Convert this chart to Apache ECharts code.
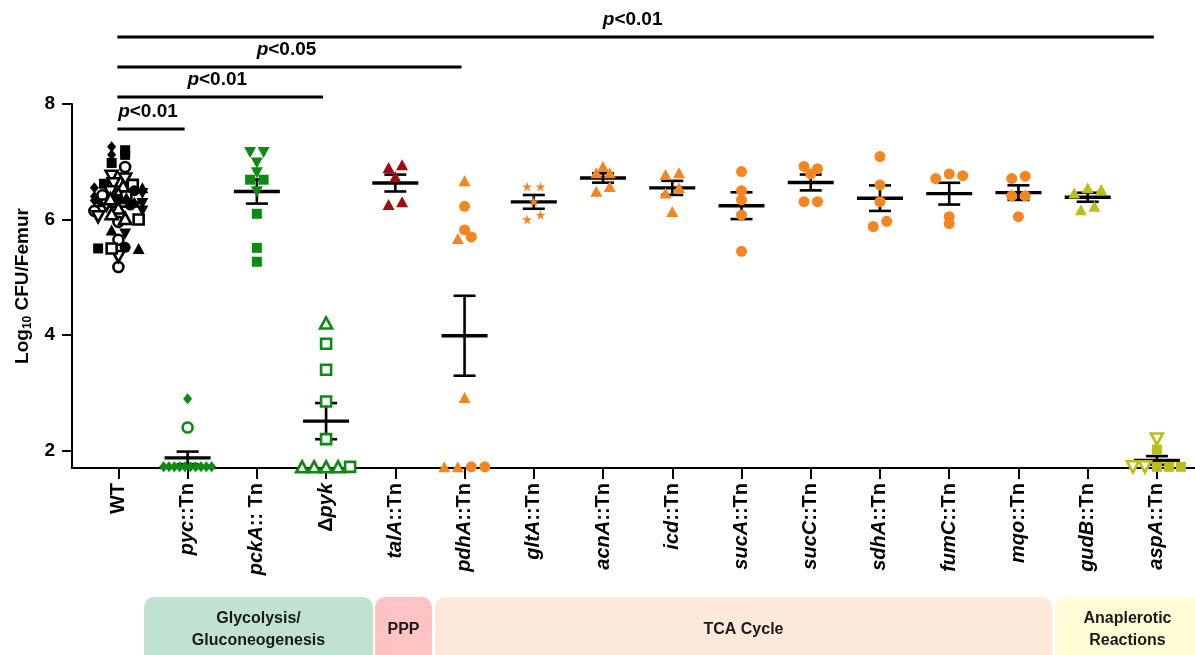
<!DOCTYPE html>
<html><head><meta charset="utf-8">
<script src="https://cdn.jsdelivr.net/npm/echarts@6/dist/echarts.min.js"></script>
<style>html,body{margin:0;padding:0;background:#fff}#c{width:1195px;height:655px}</style>
</head><body><div id="c"></div>
<script>
// ---------------- DATA ----------------
const categories = ['WT','pyc::Tn','pckA:: Tn','Δpyk','talA::Tn','pdhA::Tn','gltA::Tn','acnA::Tn','icd::Tn','sucA::Tn','sucC::Tn','sdhA::Tn','fumC::Tn','mqo::Tn','gudB::Tn','aspA::Tn'];
const yTicks = [2, 4, 6, 8];

// WT (several independent experiments, different symbols)
const wtDiamond     = [7.26, 7.12, 6.55, 6.40, 6.33];
const wtSquare      = [7.20, 7.12, 6.98, 6.62, 6.30, 5.50];
const wtOpenCircle  = [6.91, 6.42, 6.15, 5.96, 5.65, 5.18];
const wtOpenTriDown = [6.75, 6.70, 6.62, 6.48, 6.25, 6.05, 5.36];
const wtOpenTriUp   = [6.58, 6.45, 6.36, 6.20, 6.10, 6.02];
const wtOpenSquare  = [6.60, 6.40, 6.00, 5.50];
const wtCircle      = [6.50, 6.35, 6.25, 5.52];
const wtTriUp       = [6.55, 6.38, 6.30, 5.82, 5.50];
const wtTriDown     = [6.45, 6.28, 6.15, 5.75];

const pycDiamond    = [2.90, 1.72, 1.72, 1.72, 1.72, 1.72, 1.72, 1.72, 1.72, 1.72, 1.72];
const pycOpenCircle = [2.40];
const pckATriDown   = [7.16, 7.16, 6.98, 6.81, 6.48];
const pckASquare    = [6.69, 6.69, 6.10, 5.51, 5.27];
const pykOpenTri    = [4.21, 1.72, 1.72, 1.72, 1.72];
const pykOpenSquare = [3.85, 3.40, 2.85, 2.20, 1.72];
const talATri       = [6.90, 6.95, 6.74, 6.26, 6.31];
const pdhATri       = [6.67, 5.67, 2.92, 1.72, 1.72];
const pdhACircle    = [6.23, 5.82, 5.70, 1.72, 1.72];
const gltAStar      = [6.57, 6.57, 6.31, 6.00, 6.08];
const acnATri       = [6.92, 6.81, 6.81, 6.49, 6.57];
const icdTri        = [6.78, 6.81, 6.46, 6.55, 6.14];
const sucACircle    = [6.83, 6.50, 6.34, 6.08, 5.45];
const sucCCircle    = [6.92, 6.88, 6.79, 6.31, 6.31];
const sdhACircle    = [7.09, 6.60, 6.31, 5.88, 5.97];
const fumCCircle    = [6.71, 6.79, 6.76, 6.05, 5.93];
const mqoCircle     = [6.71, 6.75, 6.41, 6.41, 6.05];
const gudBTri       = [6.46, 6.55, 6.52, 6.17, 6.23];
const aspAOpenTriDown = [2.20, 1.72, 1.72];
const aspASquare    = [2.02, 1.72, 1.72, 1.72];

const bracketTo    = [15, 5, 3, 1];
const bracketLabel = ['<0.01', '<0.05', '<0.01', '<0.01'];

const pathways      = ['Glycolysis/\nGluconeogenesis', 'PPP', 'TCA Cycle', 'Anaplerotic\nReactions'];

// ---------------- STYLE / LAYOUT ----------------
const FONT = '"Liberation Sans", Arial, sans-serif';
const W = 1195, H = 655;
const gridLeft = 72, gridRight = 0, gridTop = 104, gridBottom = 187;
const xMin = -0.67, xMax = 15.55, yMin = 1.7, yMax = 8;
const pxPerX = (W - gridLeft - gridRight) / (xMax - xMin);
const pxPerY = (H - gridTop - gridBottom) / (yMax - yMin);

const BLACK = '#000000', GREEN = '#0d8a12', RED = '#a00c10', ORANGE = '#f5861f', OLIVE = '#bdbd18';
const TRI_DOWN = 'path://M0,0L12,0L6,11Z';
const STAR = 'path://M5,0L6.2,3.6L10,3.6L6.9,5.8L8.1,9.5L5,7.2L1.9,9.5L3.1,5.8L0,3.6L3.8,3.6Z';
const markers = {
  diamond:     {symbol: 'diamond', size: [9, 11], open: false},
  square:      {symbol: 'rect', size: 10, open: false},
  circle:      {symbol: 'circle', size: 11, open: false},
  triUp:       {symbol: 'triangle', size: [12, 11], open: false},
  triDown:     {symbol: TRI_DOWN, size: [12, 11], open: false},
  star:        {symbol: STAR, size: 10, open: false},
  openCircle:  {symbol: 'circle', size: 10, open: true},
  openSquare:  {symbol: 'rect', size: 10, open: true},
  openTriUp:   {symbol: 'triangle', size: [12, 11], open: true},
  openTriDown: {symbol: TRI_DOWN, size: [12, 11], open: true}
};

const sets = [
  [0, wtDiamond, 'diamond', BLACK], [0, wtSquare, 'square', BLACK], [0, wtOpenCircle, 'openCircle', BLACK],
  [0, wtOpenTriDown, 'openTriDown', BLACK], [0, wtOpenTriUp, 'openTriUp', BLACK], [0, wtOpenSquare, 'openSquare', BLACK],
  [0, wtCircle, 'circle', BLACK], [0, wtTriUp, 'triUp', BLACK], [0, wtTriDown, 'triDown', BLACK],
  [1, pycDiamond, 'diamond', GREEN], [1, pycOpenCircle, 'openCircle', GREEN],
  [2, pckATriDown, 'triDown', GREEN], [2, pckASquare, 'square', GREEN],
  [3, pykOpenTri, 'openTriUp', GREEN], [3, pykOpenSquare, 'openSquare', GREEN],
  [4, talATri, 'triUp', RED],
  [5, pdhATri, 'triUp', ORANGE], [5, pdhACircle, 'circle', ORANGE],
  [6, gltAStar, 'star', ORANGE], [7, acnATri, 'triUp', ORANGE], [8, icdTri, 'triUp', ORANGE],
  [9, sucACircle, 'circle', ORANGE], [10, sucCCircle, 'circle', ORANGE], [11, sdhACircle, 'circle', ORANGE],
  [12, fumCCircle, 'circle', ORANGE], [13, mqoCircle, 'circle', ORANGE],
  [14, gudBTri, 'triUp', OLIVE],
  [15, aspAOpenTriDown, 'openTriDown', OLIVE], [15, aspASquare, 'square', OLIVE]
];

// --------- column-scatter layout (points at similar height placed side by side) ---------
const ROW_THRESH = 6, SPACING = 13.5, MAXHALF = 24;
const perCat = categories.map(() => []);
let order = 0;
const setPoints = sets.map(([ci, vals]) => vals.map(v => {
  const p = {ci, v, order: order++, dx: 0};
  perCat[ci].push(p);
  return p;
}));
perCat.forEach(points => {
  const sorted = points.slice().sort((a, b) => b.v - a.v || a.order - b.order);
  const rows = []; let cur = null;
  sorted.forEach(p => {
    const py = p.v * pxPerY;
    if (cur && cur.start - py < ROW_THRESH) cur.items.push(p);
    else { cur = {start: py, items: [p]}; rows.push(cur); }
  });
  rows.forEach(r => {
    r.items.sort((a, b) => a.order - b.order);
    const n = r.items.length;
    let d = SPACING;
    if ((n - 1) * d / 2 > MAXHALF) d = 2 * MAXHALF / (n - 1);
    r.items.forEach((p, i) => { p.dx = (i - (n - 1) / 2) * d; });
  });
});

// mean & SEM per category
const errData = perCat.map((pts, ci) => {
  const n = pts.length;
  const m = pts.reduce((s, p) => s + p.v, 0) / n;
  const sd = Math.sqrt(pts.reduce((s, p) => s + (p.v - m) * (p.v - m), 0) / (n - 1));
  return [ci, m, sd / Math.sqrt(n)];
});

const scatterSeries = sets.map(([ci, vals, mk, color], si) => {
  const m = markers[mk];
  return {
    type: 'scatter', z: 4, silent: true,
    symbol: m.symbol, symbolSize: m.size,
    itemStyle: m.open ? {color: '#ffffff', borderColor: color, borderWidth: 2.6, opacity: 1}
                      : {color: color, opacity: 1},
    data: setPoints[si].map(p => [p.ci + p.dx / pxPerX, p.v])
  };
});

const errSeries = {
  type: 'custom', z: 3, silent: true,
  renderItem: (params, api) => {
    const x = api.value(0), m = api.value(1), s = api.value(2);
    const pm = api.coord([x, m]), pt = api.coord([x, m + s]), pb = api.coord([x, m - s]);
    const st = {stroke: '#000', lineWidth: 2.6};
    return {type: 'group', children: [
      {type: 'line', shape: {x1: pm[0] - 23, y1: pm[1], x2: pm[0] + 23, y2: pm[1]}, style: {stroke: '#000', lineWidth: 3.4}},
      {type: 'line', shape: {x1: pt[0], y1: pt[1], x2: pb[0], y2: pb[1]}, style: st},
      {type: 'line', shape: {x1: pt[0] - 11, y1: pt[1], x2: pt[0] + 11, y2: pt[1]}, style: st},
      {type: 'line', shape: {x1: pb[0] - 11, y1: pb[1], x2: pb[0] + 11, y2: pb[1]}, style: st}
    ]};
  },
  data: errData
};

function catLabel(name) {
  if (name.charAt(0) === 'Δ') return '{n|Δ}{i|' + name.slice(1) + '}';
  const k = name.indexOf('::');
  if (k < 0) return '{n|' + name + '}';
  return '{i|' + name.slice(0, k) + '}{n|' + name.slice(k) + '}';
}
const catIdx = categories.map((c, i) => i);
const lblBase = {fontFamily: FONT, fontWeight: 'bold', fontSize: 20, color: '#000'};

const chart = echarts.init(document.getElementById('c'), null, {renderer: 'canvas'});
chart.setOption({
  animation: false,
  backgroundColor: '#ffffff',
  grid: {left: gridLeft, right: gridRight, top: gridTop, bottom: gridBottom, containLabel: false},
  xAxis: {
    type: 'value', min: xMin, max: xMax,
    axisLine: {show: true, onZero: false, lineStyle: {color: '#000', width: 2}},
    axisTick: {show: true, customValues: catIdx, length: 11, lineStyle: {color: '#000', width: 2}},
    axisLabel: {
      customValues: catIdx, rotate: 90, margin: 15,
      formatter: v => catLabel(categories[Math.round(v)]),
      rich: {n: Object.assign({}, lblBase), i: Object.assign({fontStyle: 'italic'}, lblBase)}
    },
    splitLine: {show: false}
  },
  yAxis: {
    type: 'value', min: yMin, max: yMax,
    axisLine: {show: true, onZero: false, lineStyle: {color: '#000', width: 2}},
    axisTick: {show: true, customValues: yTicks, length: 10, lineStyle: {color: '#000', width: 2}},
    axisLabel: {customValues: yTicks, margin: 17, fontFamily: FONT, fontWeight: 'bold', fontSize: 19, color: '#000'},
    splitLine: {show: false},
    name: '{a|Log}{s|10}{a| CFU/Femur}', nameLocation: 'middle', nameGap: 38, nameRotate: 90,
    nameTextStyle: {
      rich: {
        a: {fontFamily: FONT, fontWeight: 'bold', fontSize: 19, color: '#000'},
        s: {fontFamily: FONT, fontWeight: 'bold', fontSize: 12, color: '#000', verticalAlign: 'bottom', padding: [9, 0, 0, 0]}
      }
    }
  },
  series: [errSeries].concat(scatterSeries)
});

// ---------------- annotations ----------------
const px = v => chart.convertToPixel({xAxisIndex: 0}, v);
const graphics = [];
const bracketY = [37, 67, 97, 129];
bracketTo.forEach((to, k) => {
  const x1 = px(0) - 1, x2 = px(to) - 3;
  graphics.push({type: 'line', shape: {x1, y1: bracketY[k], x2, y2: bracketY[k]}, style: {stroke: '#000', lineWidth: 3}, silent: true});
  graphics.push({type: 'text', x: (x1 + x2) / 2 - 3, y: bracketY[k] - 8, silent: true,
    style: {text: '{i|p}{n|' + bracketLabel[k] + '}', align: 'center', verticalAlign: 'bottom',
      rich: {i: {fontFamily: FONT, fontWeight: 'bold', fontStyle: 'italic', fontSize: 19, fill: '#000'},
             n: {fontFamily: FONT, fontWeight: 'bold', fontSize: 19, fill: '#000'}}}});
});
const boxEdges = [[144, 373], [375, 432], [435, 1052], [1055, 1200]];
const boxColors = ['#bfe3d0', '#ffc3c3', '#fde9dc', '#fffcd6'];
pathways.forEach((t, k) => {
  const [a, b] = boxEdges[k];
  graphics.push({type: 'rect', shape: {x: a, y: 597, width: b - a, height: 70, r: [10, 10, 0, 0]}, style: {fill: boxColors[k]}, silent: true});
  graphics.push({type: 'text', x: (a + b) / 2, y: 630, silent: true,
    style: {text: t, align: 'center', verticalAlign: 'middle', fontFamily: FONT, fontWeight: 'bold', fontSize: 16, lineHeight: 22, fill: '#1a1a1a'}});
});
chart.setOption({graphic: graphics});
</script>
</body></html>
